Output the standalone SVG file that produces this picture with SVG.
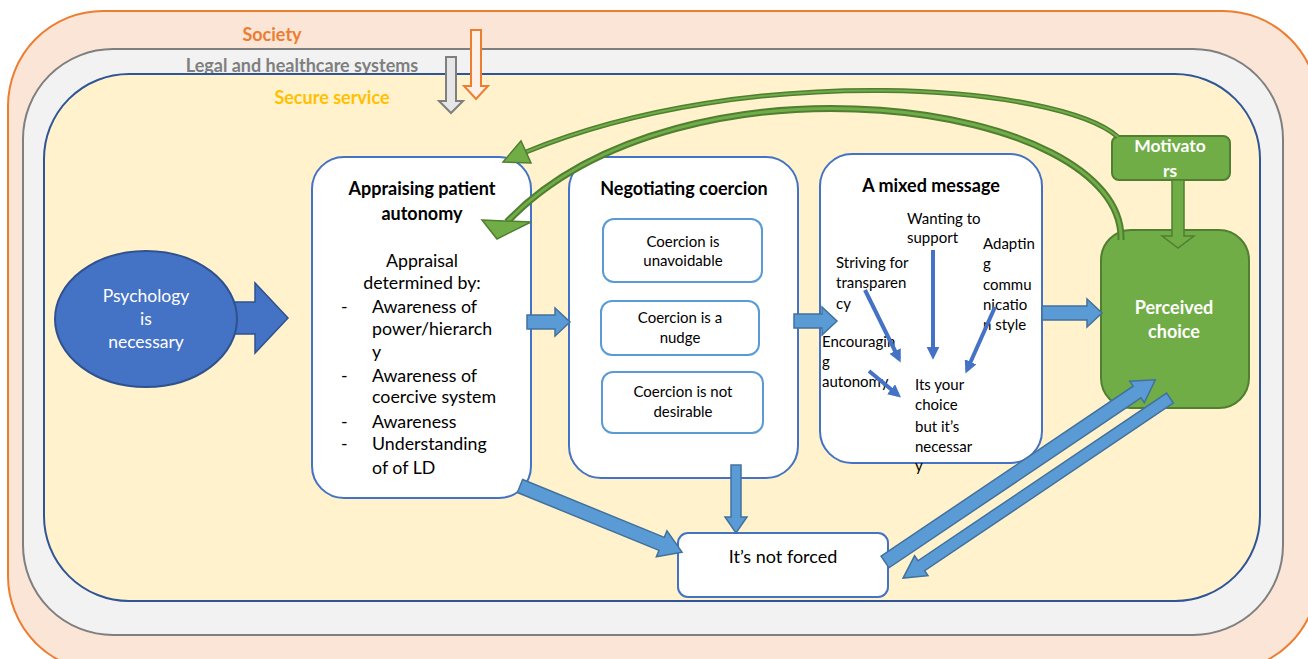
<svg xmlns="http://www.w3.org/2000/svg" width="1308" height="659" viewBox="0 0 1308 659">
<defs>
<style>
text{font-family:Lato,"Liberation Sans",sans-serif;}
.lbl{font-weight:bold;font-size:18px;text-anchor:middle;}
.title{font-weight:bold;font-size:18px;text-anchor:middle;fill:#000;}
.body17{font-size:17.8px;fill:#000;}
.t14{font-size:15px;fill:#000;}
.c14{font-size:15px;fill:#000;text-anchor:middle;}
.node{fill:#fff;stroke:#4472C4;stroke-width:2;}
.inner{fill:#fff;stroke:#5B9BD5;stroke-width:2;}
.green{fill:#70AD47;stroke:#507E32;stroke-width:2;}
.wtxt{fill:#fff;font-weight:bold;text-anchor:middle;}
.barrow{fill:#5B9BD5;stroke:#41719C;stroke-width:1.5;}
.thin{stroke:#4472C4;stroke-width:4;fill:none;marker-end:url(#ah);}
</style>
<marker id="ah" viewBox="0 0 10 10" refX="7" refY="5" markerWidth="3.2" markerHeight="3.2" orient="auto" markerUnits="strokeWidth">
<path d="M0,0 L10,5 L0,10 z" fill="#4472C4"/>
</marker>
</defs>

<g id="society">
<rect x="8" y="11" width="1310" height="660" rx="95" fill="#FBE5D6" stroke="#ED7D31" stroke-width="2"/>
<text class="lbl" x="272" y="41" fill="#ED7D31">Society</text>
</g>
<g id="legal">
<rect x="23" y="49" width="1260" height="586" rx="90" fill="#F2F2F2" stroke="#7F7F7F" stroke-width="2"/>
<text class="lbl" x="302" y="72" fill="#7F7F7F">Legal and healthcare systems</text>
</g>
<g id="secure">
<rect x="44" y="74" width="1216" height="527" rx="85" fill="#FFF2CC" stroke="#2F5597" stroke-width="2"/>
<text class="lbl" x="332" y="104" fill="#FFC000">Secure service</text>
</g>

<g id="psychology">
<polygon points="0,-16 30,-16 30,-35 63,0 30,35 30,16 0,16" transform="translate(225,318)" fill="#4472C4" stroke="#2F528F" stroke-width="1.5"/>
<ellipse cx="146" cy="319" rx="91" ry="68" fill="#4472C4" stroke="#2F528F" stroke-width="2"/>
<text x="146" y="302" fill="#fff" font-size="17.5" text-anchor="middle">Psychology</text>
<text x="146" y="325" fill="#fff" font-size="17.5" text-anchor="middle">is</text>
<text x="146" y="348" fill="#fff" font-size="17.5" text-anchor="middle">necessary</text>
</g>

<g id="appraising">
<rect class="node" x="312" y="157" width="219" height="341" rx="32"/>
<text class="title" x="422" y="195">Appraising patient</text>
<text class="title" x="422" y="220">autonomy</text>
<text class="body17" x="422" y="267" text-anchor="middle">Appraisal</text>
<text class="body17" x="422" y="289" text-anchor="middle">determined by:</text>
<text class="body17" x="341" y="313">-</text>
<text class="body17" x="372" y="313">Awareness of</text>
<text class="body17" x="372" y="335">power/hierarch</text>
<text class="body17" x="372" y="358">y</text>
<text class="body17" x="341" y="382">-</text>
<text class="body17" x="372" y="382">Awareness of</text>
<text class="body17" x="372" y="403">coercive system</text>
<text class="body17" x="341" y="428">-</text>
<text class="body17" x="372" y="428">Awareness</text>
<text class="body17" x="341" y="450">-</text>
<text class="body17" x="372" y="450">Understanding</text>
<text class="body17" x="372" y="474">of of LD</text>
</g>

<g id="negotiating">
<rect class="node" x="569" y="157" width="229" height="321" rx="32"/>
<text class="title" x="684" y="195">Negotiating coercion</text>
<rect class="inner" x="603" y="219" width="159" height="63" rx="11"/>
<text class="c14" x="683" y="247">Coercion is</text>
<text class="c14" x="683" y="266">unavoidable</text>
<rect class="inner" x="601" y="301" width="158" height="54" rx="11"/>
<text class="c14" x="680" y="323">Coercion is a</text>
<text class="c14" x="680" y="343">nudge</text>
<rect class="inner" x="602" y="372" width="161" height="61" rx="11"/>
<text class="c14" x="683" y="397">Coercion is not</text>
<text class="c14" x="683" y="417">desirable</text>
</g>

<g id="mixed">
<rect class="node" x="820" y="154" width="222" height="309" rx="32"/>
<text class="title" x="931" y="192">A mixed message</text>
<text class="t14" x="907" y="224">Wanting to</text>
<text class="t14" x="907" y="243">support</text>
<text class="t14" x="983" y="249">Adaptin</text>
<text class="t14" x="983" y="269">g</text>
<text class="t14" x="983" y="290">commu</text>
<text class="t14" x="983" y="310">nicatio</text>
<text class="t14" x="983" y="330">n style</text>
<text class="t14" x="836" y="268">Striving for</text>
<text class="t14" x="836" y="288">transparen</text>
<text class="t14" x="836" y="309">cy</text>
<text class="t14" x="822" y="347">Encouragin</text>
<text class="t14" x="822" y="367">g</text>
<text class="t14" x="822" y="387">autonomy</text>
<text class="t14" x="915" y="390">Its your</text>
<text class="t14" x="915" y="410">choice</text>
<text class="t14" x="915" y="432">but it’s</text>
<text class="t14" x="915" y="452">necessar</text>
<text class="t14" x="915" y="471">y</text>
</g>

<g id="perceived">
<rect class="green" x="1101" y="230" width="148" height="178" rx="30"/>
<text class="wtxt" x="1174" y="314" font-size="18">Perceived</text>
<text class="wtxt" x="1174" y="338" font-size="18">choice</text>
</g>

<g id="motivators">
<rect class="green" x="1112" y="136" width="118" height="44" rx="7"/>
<text class="wtxt" x="1170" y="152" font-size="17.5">Motivato</text>
<text class="wtxt" x="1170" y="177" font-size="17.5">rs</text>
</g>

<g id="notforced">
<rect class="node" x="678" y="533" width="210" height="64" rx="10"/>
<text x="783" y="563" font-size="18" text-anchor="middle" fill="#000">It’s not forced</text>
</g>

<g id="connectors">
<polygon points="0,-5 56,-5 56,-12 69,0 56,12 56,5 0,5" transform="translate(476,30) rotate(90)" fill="#FDF0E7" stroke="#ED7D31" stroke-width="2"/>
<polygon points="0,-5 44,-5 44,-12 56,0 44,12 44,5 0,5" transform="translate(451,57) rotate(90)" fill="#E7E6E6" stroke="#7F7F7F" stroke-width="2"/>

<path d="M1118,137 C1060,85 750,60 526,152" fill="none" stroke="#507E32" stroke-width="5"/>
<path d="M1118,137 C1060,85 750,60 526,152" fill="none" stroke="#70AD47" stroke-width="2"/>
<polygon points="503,162 521,141 531,163" fill="#70AD47" stroke="#507E32" stroke-width="1.5"/>

<path d="M1121,240 C1125,100 680,40 507,222" fill="none" stroke="#507E32" stroke-width="7"/>
<path d="M1121,240 C1125,100 680,40 507,222" fill="none" stroke="#70AD47" stroke-width="3"/>
<polygon points="482,220 531,222 497,239" fill="#70AD47" stroke="#507E32" stroke-width="1.5"/>

<polygon points="0,-6 56,-6 56,-16 68,0 56,16 56,6 0,6" transform="translate(1178,180) rotate(90)" fill="#70AD47" stroke="#507E32" stroke-width="1.5"/>

<polygon class="barrow" points="0,-7 28,-7 28,-14 43,0 28,14 28,7 0,7" transform="translate(527,322)"/>
<polygon class="barrow" points="0,-7 28,-7 28,-14 43,0 28,14 28,7 0,7" transform="translate(794,321)"/>
<polygon class="barrow" points="0,-7 45,-7 45,-14 60,0 45,14 45,7 0,7" transform="translate(1042,313)"/>
<polygon class="barrow" points="0,-5 52,-5 52,-11 68,0 52,11 52,5 0,5" transform="translate(736,465) rotate(90)"/>
<polygon class="barrow" points="0,-7 153,-7 153,-14 175,0 153,14 153,7 0,7" transform="translate(520,486) rotate(22.2)"/>
<polygon class="barrow" points="0,-7 304,-7 304,-13 326,0 304,13 304,7 0,7" transform="translate(885,562) rotate(-34)"/>
<polygon class="barrow" points="0,-6 300,-6 300,-12 322,0 300,12 300,6 0,6" transform="translate(1170,398) rotate(146)"/>

<line class="thin" x1="865" y1="290" x2="899" y2="359"/>
<line class="thin" x1="933" y1="250" x2="933" y2="356"/>
<line class="thin" x1="995" y1="307" x2="967" y2="370"/>
<line class="thin" x1="869" y1="371" x2="898" y2="395"/>
</g>
</svg>
